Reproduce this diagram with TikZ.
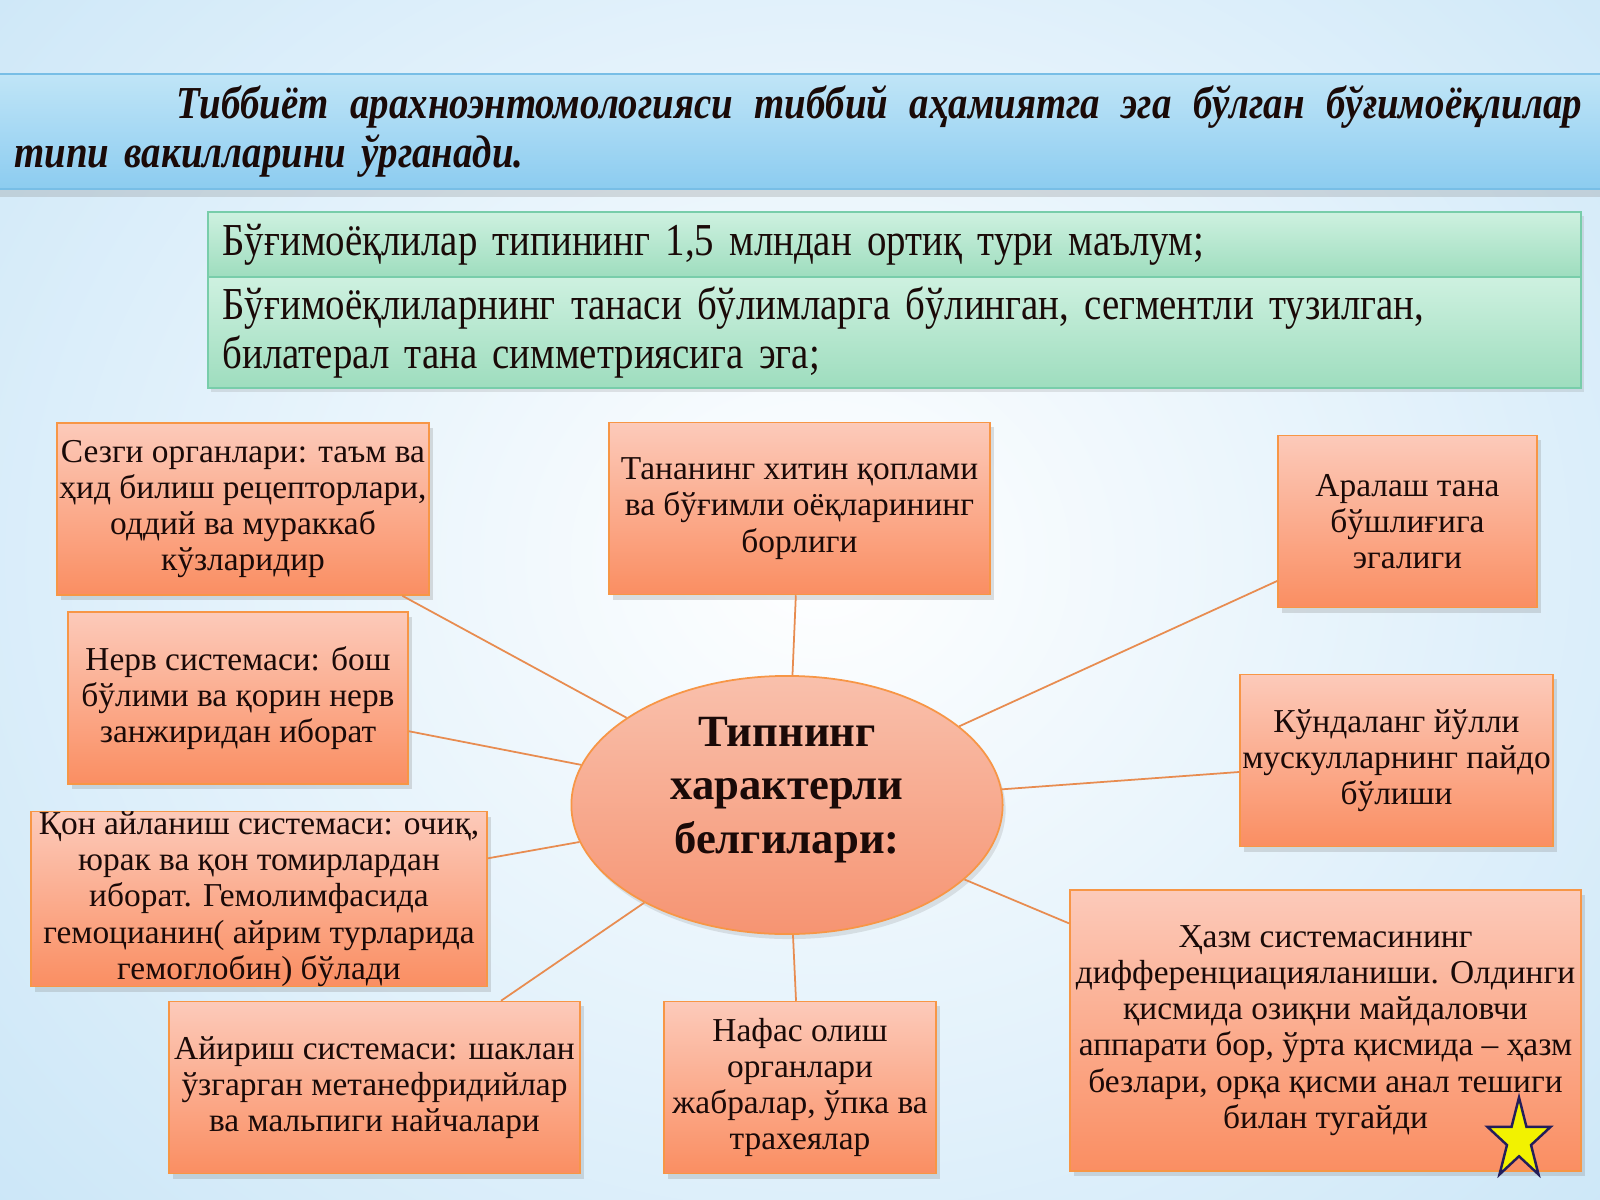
\documentclass[tikz,border=0pt]{standalone}
\usepackage{fontspec}
\setmainfont{Liberation Serif}
\newfontfamily\narrowserif{Liberation Serif}[FakeStretch=0.85]
\usetikzlibrary{shapes.geometric,shadows}

\definecolor{peachtop}{RGB}{252,202,186}
\definecolor{peachbot}{RGB}{250,142,98}
\definecolor{peachline}{RGB}{247,150,70}
\definecolor{hubtop}{RGB}{249,192,172}
\definecolor{hubbot}{RGB}{246,148,114}
\definecolor{mintop}{RGB}{206,241,224}
\definecolor{minbot}{RGB}{158,221,190}
\definecolor{mintline}{RGB}{120,205,170}
\definecolor{skytop}{RGB}{192,229,247}
\definecolor{skybot}{RGB}{140,204,240}
\definecolor{skyline}{RGB}{120,190,230}
\definecolor{bgblue}{RGB}{186,222,245}
\definecolor{inkdark}{RGB}{26,10,8}
\definecolor{starline}{RGB}{35,30,90}
\definecolor{staryellow}{RGB}{242,242,0}
\definecolor{linkorange}{RGB}{232,140,80}

\begin{document}
\begin{tikzpicture}[x=0.01cm, y=-0.01cm,
  band/.style={draw=skyline, line width=0.6pt, top color=skytop, bottom color=skybot, minimum width=16.04cm, minimum height=1.15cm, text width=15.7cm, align=left, inner sep=0pt, text=inkdark, font=\narrowserif\bfseries\itshape\fontsize{13}{13.9}\selectfont, drop shadow={opacity=0.25, shadow xshift=0cm, shadow yshift=-0.08cm}},
  fact/.style={draw=mintline, line width=0.6pt, top color=mintop, bottom color=minbot, minimum width=13.73cm, text width=13.43cm, inner xsep=0.15cm, inner ysep=0pt, align=left, text=inkdark, font=\narrowserif\fontsize{13}{13.7}\selectfont, drop shadow={opacity=0.2, shadow xshift=0.03cm, shadow yshift=-0.04cm}},
  feat/.style={draw=peachline, line width=0.4pt, top color=peachtop, bottom color=peachbot, minimum height=1.72cm, align=center, inner sep=0pt, text=inkdark, font=\fontsize{9.5}{10.3}\selectfont, drop shadow={opacity=0.25, shadow xshift=0.04cm, shadow yshift=-0.05cm}},
  hub/.style={ellipse, draw=peachline, line width=0.5pt, top color=hubtop, bottom color=hubbot, minimum width=4.31cm, minimum height=2.58cm, inner sep=0pt, align=center, text=inkdark, text depth=0.4cm, font=\bfseries\fontsize{12.7}{15.2}\selectfont, drop shadow={opacity=0.2, shadow xshift=0.03cm, shadow yshift=-0.05cm}},
  link/.style={draw=linkorange, line width=0.5pt}]

  % slide background
  \useasboundingbox (0,0) rectangle (1600,1200);
  \begin{scope}
    \clip (0,0) rectangle (1600,1200);
    \fill[bgblue] (0,0) rectangle (1600,1200);
    \shade[inner color=white, outer color=bgblue] (820,560) ellipse (1500 and 1300);
  \end{scope}

  % title band and facts
  \node[band] (title) at (800,131.5) {\hspace*{1.62cm}\makebox[14.05cm][l]{Тиббиёт\hfill арахноэнтомологияси\hfill тиббий\hfill аҳамиятга\hfill эга\hfill бўлган\hfill бўғимоёқлилар}\\типи вакилларини ўрганади.};
  \node[fact, minimum height=0.65cm] (fact1) at (894.5,244.5) {Бўғимоёқлилар типининг 1,5 млндан ортиқ тури маълум;};
  \node[fact, minimum height=1.11cm] (fact2) at (894.5,332.5) {Бўғимоёқлиларнинг танаси бўлимларга бўлинган, сегментли тузилган,\\билатерал тана симметриясига эга;};

  % features
  \node[feat, minimum width=3.72cm] (sez) at (243,509) {Сезги органлари: таъм ва\\ҳид билиш рецепторлари,\\оддий ва мураккаб\\кўзларидир};
  \node[feat, minimum width=3.81cm] (tana) at (799.5,508.5) {Тананинг хитин қоплами\\ва бўғимли оёқларининг\\борлиги};
  \node[feat, minimum width=2.59cm] (aral) at (1407.5,521.5) {Аралаш тана\\бўшлиғига\\эгалиги};
  \node[feat, minimum width=3.40cm] (nerv) at (238,698) {Нерв системаси: бош\\бўлими ва қорин нерв\\занжиридан иборат};
  \node[feat, minimum width=3.13cm] (kund) at (1396.5,760.5) {Кўндаланг йўлли\\мускулларнинг пайдо\\бўлиши};
  \node[feat, minimum width=4.56cm] (qon) at (259,899) {Қон айланиш системаси: очиқ,\\юрак ва қон томирлардан\\иборат. Гемолимфасида\\гемоцианин( айрим турларида\\гемоглобин) бўлади};
  \node[feat, minimum width=4.11cm] (ayir) at (374.5,1087.5) {Айириш системаси: шаклан\\ўзгарган метанефридийлар\\ва мальпиги найчалари};
  \node[feat, minimum width=2.72cm] (nafas) at (800,1087.5) {Нафас олиш\\органлари\\жабралар, ўпка ва\\трахеялар};
  \node[feat, minimum width=5.11cm, minimum height=2.81cm] (hazm) at (1325.5,1030.5) {Ҳазм системасининг\\дифференциацияланиши. Олдинги\\қисмида озиқни майдаловчи\\аппарати бор, ўрта қисмида – ҳазм\\безлари, орқа қисми анал тешиги\\билан тугайди};

  \node[hub] (hub) at (787,805) {Типнинг\\характерли\\белгилари:};

  \draw[link] (hub) -- (sez);
  \draw[link] (hub) -- (tana);
  \draw[link] (hub) -- (aral);
  \draw[link] (hub) -- (nerv);
  \draw[link] (hub) -- (kund);
  \draw[link] (hub) -- (qon);
  \draw[link] (hub) -- (ayir);
  \draw[link] (hub) -- (nafas);
  \draw[link] (hub) -- (hazm);

  \node[star, star points=5, star point ratio=2.62, minimum size=0.85cm, xscale=0.78, inner sep=0pt, fill=staryellow, draw=starline, line width=0.7pt] (endstar) at (1519,1140) {};
\end{tikzpicture}
\end{document}
